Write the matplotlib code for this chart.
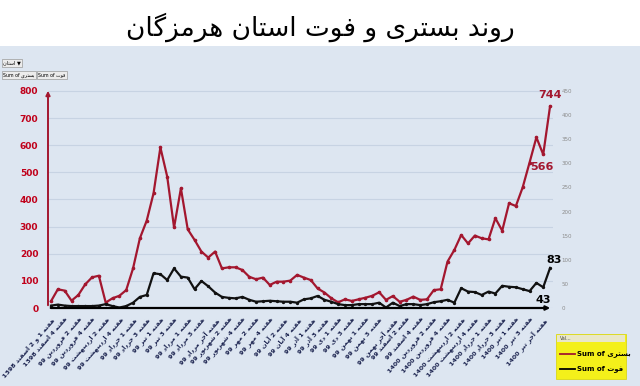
import matplotlib
matplotlib.use("Agg")
import matplotlib.pyplot as plt
from matplotlib.patches import Rectangle
from matplotlib.lines import Line2D

# weekly hospitalised (left axis) and deaths (right axis), Hormozgan
bastari = [25, 69, 64, 27, 48, 87, 113, 119, 20, 36, 45, 66, 146, 257, 322, 423, 592, 484, 297,
           441, 290, 251, 208, 186, 208, 146, 150, 150, 140, 115, 106, 112, 85, 97, 97, 101, 122, 112,
           103, 72, 57, 36, 21, 32, 26, 32, 38, 45, 58, 30, 44, 23, 30, 42, 30, 32,
           66, 69, 171, 214, 269, 238, 267, 257, 253, 331, 285, 386, 376, 445, 536, 629, 566, 744]
fot = [5, 7, 5, 4, 4, 4, 4, 5, 8, 4, 1, 4, 11, 23, 27, 72, 70, 58, 82,
       65, 63, 39, 56, 45, 32, 23, 21, 20, 23, 17, 13, 14, 15, 14, 13, 13, 11, 18,
       20, 25, 17, 13, 8, 6, 6, 8, 8, 8, 11, 1, 11, 4, 8, 8, 6, 8,
       12, 14, 17, 11, 41, 34, 33, 27, 34, 30, 46, 44, 43, 39, 35, 52, 43, 83]

week_labels = [
    "هفته 1 و 2 اسفند 1398", "هفته 4 اسفند 1398", "هفته 2 فروردین 99", "هفته 4 فروردین 99",
    "هفته 2 اردیبهشت 99", "هفته 4 اردیبهشت 99", "هفته 1 خرداد 99", "هفته 3 خرداد 99",
    "هفته 1 تیر 99", "هفته 3 تیر 99", "هفته 1 مرداد 99", "هفته 3 مرداد 99",
    "هفته آخر مرداد 99", "هفته 2 شهریور 99", "هفته 4 شهریور 99", "هفته 2 مهر 99",
    "هفته 4 مهر 99", "هفته 2 آبان 99", "هفته 4 آبان 99", "هفته 1 آذر 99",
    "هفته 3 آذر 99", "هفته 1 دی 99", "هفته 3 دی 99", "هفته 1 بهمن 99",
    "هفته 3 بهمن 99", "هفته آخر بهمن 99", "هفته 2 اسفند 99", "هفته 4 اسفند 99",
    "هفته 2 فروردین 1400", "هفته 4 فروردین 1400", "هفته 2 اردیبهشت 1400", "هفته 4 اردیبهشت 1400",
    "هفته 1 خرداد 1400", "هفته 3 خرداد 1400", "هفته 1 تیر 1400", "هفته 3 تیر 1400",
    "هفته آخر تیر 1400",
]
left_ticks = [0, 100, 200, 300, 400, 500, 600, 700, 800]
right_ticks = [0, 50, 100, 150, 200, 250, 300, 350, 400, 450]
title = "روند بستری و فوت استان هرمزگان"

# --- tiny arabic shaper (matplotlib has no RTL/joining support) ---
FORMS = {
    'ا': '\uFE8D\uFE8E', 'آ': '\uFE81\uFE82', 'د': '\uFEA9\uFEAA', 'ذ': '\uFEAB\uFEAC',
    'ر': '\uFEAD\uFEAE', 'ز': '\uFEAF\uFEB0', 'و': '\uFEED\uFEEE', 'ژ': '\uFB8A\uFB8B',
    'ب': '\uFE8F\uFE90\uFE91\uFE92', 'ت': '\uFE95\uFE96\uFE97\uFE98', 'خ': '\uFEA5\uFEA6\uFEA7\uFEA8',
    'س': '\uFEB1\uFEB2\uFEB3\uFEB4', 'ش': '\uFEB5\uFEB6\uFEB7\uFEB8', 'ف': '\uFED1\uFED2\uFED3\uFED4',
    'ل': '\uFEDD\uFEDE\uFEDF\uFEE0', 'م': '\uFEE1\uFEE2\uFEE3\uFEE4', 'ن': '\uFEE5\uFEE6\uFEE7\uFEE8',
    'ه': '\uFEE9\uFEEA\uFEEB\uFEEC', 'گ': '\uFB92\uFB93\uFB94\uFB95', 'ی': '\uFBFC\uFBFD\uFBFE\uFBFF',
}


def shape(word):
    out = []
    for i, ch in enumerate(word):
        f = FORMS.get(ch)
        if f is None:
            out.append(ch)
            continue
        prev = word[i - 1] if i > 0 else None
        nxt = word[i + 1] if i < len(word) - 1 else None
        jp = prev in FORMS and len(FORMS[prev]) == 4
        jn = nxt in FORMS and len(f) == 4
        if jp and jn:
            out.append(f[3])
        elif jp:
            out.append(f[1])
        elif jn:
            out.append(f[2])
        else:
            out.append(f[0])
    return ''.join(out)


def rtl(text):
    toks = [shape(t)[::-1] if any(c in FORMS for c in t) else t for t in text.split(' ')]
    return ' '.join(reversed(toks))


RED = '#a3172f'
W, H = 640, 386
fig = plt.figure(figsize=(6.4, 3.86), dpi=100)
fig.patch.set_facecolor('white')
fig.patches.append(Rectangle((0, 0), 1, (H - 46) / H, transform=fig.transFigure,
                             facecolor='#dde6f1', edgecolor='none', zorder=-5))
fig.text(0.5, 1 - 27 / H, rtl(title), ha='center', va='center', fontsize=19, color='black')

ax = fig.add_axes([48 / W, 78 / H, 505 / W, 220 / H])
ax.set_facecolor('none')
x = list(range(len(bastari)))
ax.plot(x, bastari, color=RED, lw=1.6, marker='o', ms=1.6, zorder=3)
ax.set_xlim(-0.44, 73.43)
ax.set_ylim(0, 811)
ax.set_yticks(left_ticks)
ax.set_yticklabels([str(v) for v in left_ticks], color='#c0001a', fontsize=6.5, fontweight='bold')
ax.tick_params(axis='y', length=0, pad=7)
ax.grid(axis='y', color='#c7d3e3', lw=0.8)
ax.set_axisbelow(True)
for s in ax.spines.values():
    s.set_visible(False)
ax.set_xticks(x[::2])
ax.set_xticklabels([rtl(t) for t in week_labels], rotation=49, ha='right', va='top',
                   rotation_mode='anchor', fontsize=4.6, fontweight='bold', color='#1c2450')
ax.tick_params(axis='x', length=0, pad=6)
ax.annotate('', xy=(0, 1), xytext=(0, 0), xycoords='axes fraction',
            arrowprops=dict(arrowstyle='-|>', color=RED, lw=1.4, mutation_scale=6))

ax2 = ax.twinx()
ax2.plot(x, fot, color='#111111', lw=1.6, marker='o', ms=1.4, zorder=3)
ax2.set_ylim(0, 456)
ax2.set_yticks(right_ticks)
ax2.set_yticklabels([str(v) for v in right_ticks], color='#8c8c8c', fontsize=4)
ax2.tick_params(axis='y', length=0, pad=6)
for s in ax2.spines.values():
    s.set_visible(False)
ax2.annotate('', xy=(1, 0), xytext=(0, 0), xycoords='axes fraction',
             arrowprops=dict(arrowstyle='-|>', color='black', lw=1.6, mutation_scale=6), zorder=5)

n = len(bastari)
ax.annotate(str(bastari[-1]), (n - 1, bastari[-1]), xytext=(0, 8), textcoords='offset points',
            ha='center', va='center', color=RED, fontsize=8, fontweight='bold')
ax.annotate(str(bastari[-2]), (n - 2, bastari[-2]), xytext=(-1, -9), textcoords='offset points',
            ha='center', va='center', color=RED, fontsize=8, fontweight='bold')
ax2.annotate(str(fot[-1]), (n - 1, fot[-1]), xytext=(3, 6), textcoords='offset points',
             ha='center', va='center', color='black', fontsize=8, fontweight='bold')
ax2.annotate(str(fot[-2]), (n - 2, fot[-2]), xytext=(0, -9), textcoords='offset points',
             ha='center', va='center', color='black', fontsize=8, fontweight='bold')

# pivot field buttons (top left)
btn = dict(boxstyle='square,pad=0.25', facecolor='#ececec', edgecolor='#9a9a9a', lw=0.5)
fig.text(3 / W, 1 - 63 / H, rtl('استان') + ' \u25BC', fontsize=3.6, va='center', ha='left', bbox=btn)
fig.text(3 / W, 1 - 75 / H, 'Sum of ' + rtl('بستری'), fontsize=3.4, va='center', ha='left', bbox=btn)
fig.text(38 / W, 1 - 75 / H, 'Sum of ' + rtl('فوت'), fontsize=3.4, va='center', ha='left', bbox=btn)

# legend box (bottom right)
fig.patches.append(Rectangle((556 / W, 1 - 379 / H), 70 / W, 45 / H, transform=fig.transFigure,
                             facecolor='#f4f01a', edgecolor='#d8d400', lw=0.5, zorder=2))
fig.patches.append(Rectangle((557 / W, 1 - 342 / H), 68 / W, 7 / H, transform=fig.transFigure,
                             facecolor='#e9e7c8', edgecolor='none', zorder=3))
fig.text(560 / W, 1 - 338.5 / H, 'Val...', fontsize=3.4, va='center', ha='left', color='#444444', zorder=4)
fig.lines.append(Line2D([560 / W, 575 / W], [1 - 354 / H] * 2, transform=fig.transFigure,
                        color=RED, lw=1.3, zorder=4))
fig.lines.append(Line2D([560 / W, 575 / W], [1 - 369 / H] * 2, transform=fig.transFigure,
                        color='black', lw=1.3, zorder=4))
fig.text(577 / W, 1 - 354 / H, 'Sum of ' + rtl('بستری'), fontsize=5, fontweight='bold',
         va='center', ha='left', zorder=4)
fig.text(577 / W, 1 - 369 / H, 'Sum of ' + rtl('فوت'), fontsize=5, fontweight='bold',
         va='center', ha='left', zorder=4)

fig.savefig('out.png', dpi=100)
